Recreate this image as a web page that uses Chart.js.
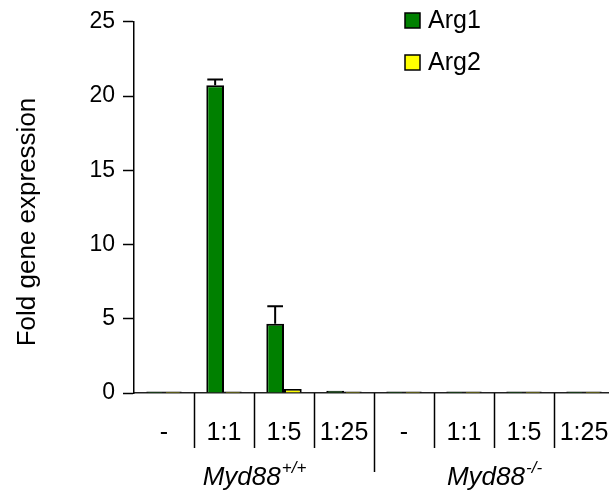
<!DOCTYPE html>
<html>
<head>
<meta charset="utf-8">
<script src="https://cdn.jsdelivr.net/npm/chart.js@4.4.1/dist/chart.umd.min.js"></script>
<style>
  html, body { margin: 0; padding: 0; background: #fff; overflow: hidden; }
  #chart { display: block; }
</style>
</head>
<body>
<canvas id="chart" width="614" height="504"></canvas>
<script>
// Fold gene expression of Arg1 / Arg2, Myd88+/+ vs Myd88-/-

const categories = ['-', '1:1', '1:5', '1:25', '-', '1:1', '1:5', '1:25'];
const groupNames = ['Myd88', 'Myd88'];
const groupSups  = ['+/+', '-/-'];
const groupSizes = [4, 4];

const seriesNames = ['Arg1', 'Arg2'];
const arg1 = [0.02, 20.73, 4.67, 0.15, 0.02, 0.02, 0.02, 0.02];
const arg2 = [0.02, 0.1, 0.27, 0.02, 0.02, 0.02, 0.02, 0.02];
const arg1Err = [0, 0.38, 1.18, 0, 0, 0, 0, 0];
const arg2Err = [0, 0, 0, 0, 0, 0, 0, 0];

const yMax = 25;
const yStep = 5;

const FONT = '"Liberation Sans", Arial, sans-serif';

const annotate = {
  id: 'annotate',
  afterDatasetsDraw(chart) {
    const { ctx, scales: { y } } = chart;
    ctx.save();
    ctx.strokeStyle = '#000';
    ctx.lineWidth = 2;
    chart.data.datasets.forEach((ds, di) => {
      const meta = chart.getDatasetMeta(di);
      ds.errors.forEach((e, i) => {
        if (!e) return;
        const bar = meta.data[i];
        const top = y.getPixelForValue(ds.data[i] + e);
        const half = bar.width / 2 - 1;
        ctx.beginPath();
        ctx.moveTo(bar.x, bar.y);
        ctx.lineTo(bar.x, top);
        ctx.moveTo(bar.x - half, top);
        ctx.lineTo(bar.x + half, top);
        ctx.stroke();
      });
    });
    ctx.restore();
  },
  afterDraw(chart) {
    const { ctx, scales: { x }, chartArea } = chart;
    const bottom = chartArea.bottom;
    const half = (x.getPixelForValue(1) - x.getPixelForValue(0)) / 2;
    ctx.save();

    // separators between categories, longer one between groups
    const groupStarts = [];
    let acc = 0;
    groupSizes.forEach(n => { groupStarts.push(acc); acc += n; });
    ctx.strokeStyle = '#000';
    ctx.lineWidth = 1.5;
    for (let i = 1; i < categories.length; i++) {
      const xb = Math.round(x.getPixelForValue(i) - half) + 0.5;
      const len = groupStarts.includes(i) ? 79 : 55;
      ctx.beginPath();
      ctx.moveTo(xb, bottom);
      ctx.lineTo(xb, bottom + len);
      ctx.stroke();
    }

    // category labels
    ctx.fillStyle = '#000';
    ctx.font = '25px ' + FONT;
    ctx.textAlign = 'center';
    ctx.textBaseline = 'middle';
    categories.forEach((c, i) => ctx.fillText(c, x.getPixelForValue(i), bottom + 40));

    // group labels with superscript
    groupNames.forEach((g, gi) => {
      const a = groupStarts[gi], b = a + groupSizes[gi] - 1;
      const cx = (x.getPixelForValue(a) + x.getPixelForValue(b)) / 2;
      ctx.font = 'italic 26px ' + FONT;
      const w1 = ctx.measureText(g).width;
      ctx.font = 'italic 17px ' + FONT;
      const w2 = ctx.measureText(groupSups[gi]).width;
      const x0 = cx - (w1 + w2) / 2;
      ctx.textAlign = 'left';
      ctx.textBaseline = 'alphabetic';
      ctx.font = 'italic 26px ' + FONT;
      ctx.fillText(g, x0, bottom + 92);
      ctx.font = 'italic 17px ' + FONT;
      ctx.fillText(groupSups[gi], x0 + w1 + 1, bottom + 80);
    });

    // y-axis title
    ctx.save();
    ctx.translate(28, 222);
    ctx.rotate(-Math.PI / 2);
    ctx.font = '26px ' + FONT;
    ctx.textAlign = 'center';
    ctx.textBaseline = 'middle';
    ctx.fillText('Fold gene expression', 0, 0);
    ctx.restore();

    // legend
    chart.data.datasets.forEach((ds, i) => {
      const top = 13 + 42 * i;
      ctx.fillStyle = ds.backgroundColor;
      ctx.fillRect(405, top, 15, 15);
      ctx.strokeStyle = '#000';
      ctx.lineWidth = 1.5;
      ctx.strokeRect(405, top, 15, 15);
      ctx.fillStyle = '#000';
      ctx.font = '25px ' + FONT;
      ctx.textAlign = 'left';
      ctx.textBaseline = 'middle';
      ctx.fillText(ds.label, 428, top + 8);
    });

    ctx.restore();
  }
};

new Chart(document.getElementById('chart'), {
  type: 'bar',
  data: {
    labels: categories,
    datasets: [
      { label: seriesNames[0], data: arg1, errors: arg1Err,
        backgroundColor: '#008000', borderColor: '#000', borderWidth: 2 },
      { label: seriesNames[1], data: arg2, errors: arg2Err,
        backgroundColor: '#ffff00', borderColor: '#000', borderWidth: 2 },
    ],
  },
  options: {
    responsive: false,
    devicePixelRatio: 1,
    animation: false,
    layout: { padding: { top: 18, left: 0, right: 0, bottom: 0 } },
    datasets: { bar: { categoryPercentage: 0.59, barPercentage: 1, minBarLength: 1.5 } },
    plugins: { legend: { display: false }, tooltip: { enabled: false } },
    scales: {
      x: {
        offset: true,
        afterFit(s) { s.height = 111; },
        ticks: { display: false },
        grid: { display: true, drawOnChartArea: false, drawTicks: false },
        border: { color: '#222', width: 1.5 },
      },
      y: {
        min: 0,
        max: yMax,
        afterFit(s) { s.width = 134; },
        border: { color: '#000', width: 1.5 },
        grid: { drawOnChartArea: false, drawTicks: true, tickLength: 11, tickColor: '#000', tickWidth: 1.5 },
        ticks: { stepSize: yStep, color: '#000', padding: 8, font: { family: FONT, size: 23 } },
      },
    },
  },
  plugins: [annotate],
});
</script>
</body>
</html>
